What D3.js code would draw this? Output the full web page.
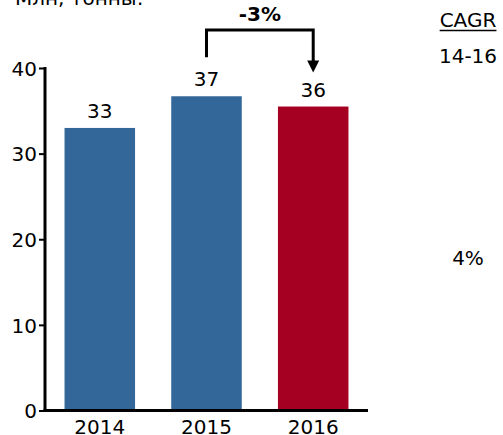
<!DOCTYPE html>
<html>
<head>
<meta charset="utf-8">
<script src="https://cdn.jsdelivr.net/npm/d3@7"></script>
<style>
  html, body { margin: 0; padding: 0; background: #fff; }
  svg { display: block; font-family: "DejaVu Sans", Verdana, sans-serif; }
</style>
</head>
<body>
<svg id="chart" width="503" height="435"></svg>
<script>
// Yearly values and presentation data
const years = ["2014", "2015", "2016"];
const values = [33.0, 36.7, 35.5];
const barColors = ["#336699", "#336699", "#A50021"];
const yTicks = [0, 10, 20, 30, 40];
const unitLabel = "Млн, тонны:";
const changeLabel = "-3%";
const cagrTitle = "CAGR";
const cagrPeriod = "14-16";
const cagrValue = "4%";

const svg = d3.select("#chart");
const fontSize = 20;
const fontFamily = "DejaVu Sans, Verdana, sans-serif";

const x = d3.scaleBand().domain(years).range([45, 368]).paddingInner(0.339).paddingOuter(0.183);
const y = d3.scaleLinear().domain([0, 40]).range([410.5, 68]);

// Unit caption, partly clipped by the top edge
svg.append("text")
  .attr("x", 15).attr("y", 5)
  .attr("font-size", fontSize)
  .text(unitLabel);

// Bars
svg.selectAll("rect.bar")
  .data(years)
  .join("rect")
  .attr("class", "bar")
  .attr("x", d => x(d))
  .attr("width", x.bandwidth())
  .attr("y", (d, i) => y(values[i]))
  .attr("height", (d, i) => y(0) - y(values[i]))
  .attr("fill", (d, i) => barColors[i]);

// Value labels above bars
svg.selectAll("text.val")
  .data(years)
  .join("text")
  .attr("class", "val")
  .attr("x", d => x(d) + x.bandwidth() / 2)
  .attr("y", (d, i) => y(values[i]) - 10)
  .attr("text-anchor", "middle")
  .attr("font-size", fontSize)
  .attr("fill", "#000")
  .text((d, i) => d3.format(".0f")(values[i]));

// Y axis
const yAxis = svg.append("g")
  .attr("transform", `translate(${x.range()[0]},0)`)
  .call(d3.axisLeft(y).tickValues(yTicks).tickSize(6).tickPadding(2));
yAxis.select(".domain").attr("stroke", "#000").attr("stroke-width", 3)
  .attr("d", `M0,${y(40) - 1}V${y(0) + 1.5}`);
yAxis.selectAll(".tick line").attr("stroke-width", 2);
yAxis.selectAll(".tick text").attr("font-size", fontSize).attr("font-family", fontFamily).attr("fill", "#000").attr("dy", "0.36em");

// X axis
const xAxis = svg.append("g")
  .attr("transform", `translate(0,${y(0)})`)
  .call(d3.axisBottom(x).tickSize(0).tickPadding(9));
xAxis.select(".domain").attr("stroke", "#000").attr("stroke-width", 3)
  .attr("d", `M${x.range()[0] - 1.5},0H${x.range()[1]}`);
xAxis.selectAll(".tick text").attr("font-size", fontSize).attr("font-family", fontFamily).attr("fill", "#000");

// Change bracket between 2015 and 2016
const cx1 = x("2015") + x.bandwidth() / 2;
const cx2 = x("2016") + x.bandwidth() / 2;
const bracketTop = 30;
const arrowTip = y(values[2]) - 34;
svg.append("path")
  .attr("d", `M${cx1},${y(values[1]) - 39}V${bracketTop}H${cx2}V${arrowTip - 8}`)
  .attr("fill", "none").attr("stroke", "#000").attr("stroke-width", 3);
svg.append("path")
  .attr("d", `M${cx2 - 6},${arrowTip - 12}L${cx2 + 6},${arrowTip - 12}L${cx2},${arrowTip}Z`)
  .attr("fill", "#000");

svg.append("text")
  .attr("x", (cx1 + cx2) / 2).attr("y", 21)
  .attr("text-anchor", "middle")
  .attr("font-size", fontSize).attr("font-weight", "bold")
  .text(changeLabel);

// CAGR side panel
const cagrX = 468;
const cagrTitleText = svg.append("text")
  .attr("x", cagrX).attr("y", 27)
  .attr("text-anchor", "middle")
  .attr("font-size", fontSize)
  .text(cagrTitle);
const bb = cagrTitleText.node().getBBox();
svg.append("line")
  .attr("x1", bb.x).attr("x2", bb.x + bb.width)
  .attr("y1", 30.5).attr("y2", 30.5)
  .attr("stroke", "#000").attr("stroke-width", 1.3);
svg.append("text")
  .attr("x", cagrX).attr("y", 63)
  .attr("text-anchor", "middle")
  .attr("font-size", fontSize)
  .text(cagrPeriod);
svg.append("text")
  .attr("x", cagrX).attr("y", 265)
  .attr("text-anchor", "middle")
  .attr("font-size", fontSize)
  .text(cagrValue);
</script>
</body>
</html>
